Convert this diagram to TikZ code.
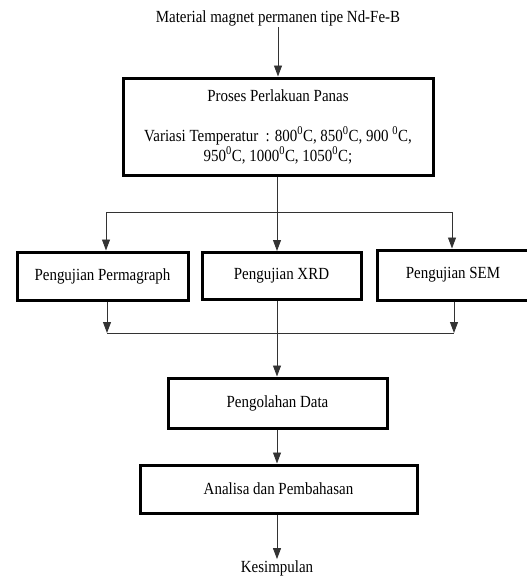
\documentclass[tikz,border=0pt]{standalone}
\usepackage{fontspec}
\setmainfont[FakeStretch=0.88]{Liberation Serif}
\usepackage{tikz}
\usetikzlibrary{arrows.meta}
\tikzset{>={Triangle[length=11pt,width=8pt]}}
\tikzset{
  box/.style={draw, line width=3pt, fill=white, align=center, inner sep=2pt},
  lbl/.style={inner sep=1pt},
  link/.style={line width=0.9pt, black!80},
}

\begin{document}
\begin{tikzpicture}[x=1pt,y=-1pt,font=\fontsize{17}{20}\selectfont]
  \useasboundingbox (0,0) rectangle (527,579);
  \node[lbl] (src) at (278,18) {Material magnet permanen tipe Nd-Fe-B};
  \node[box, minimum width=310pt, minimum height=97pt] (heat) at (278,126.5)
    {Proses Perlakuan Panas\\[20pt]
     Variasi Temperatur\ \ : 800\textsuperscript{0}C, 850\textsuperscript{0}C, 900 \textsuperscript{0}C,\\
     950\textsuperscript{0}C, 1000\textsuperscript{0}C, 1050\textsuperscript{0}C;};
  \node[box, minimum width=171pt, minimum height=48pt] (perm) at (102.5,276) {Pengujian Permagraph};
  \node[box, minimum width=159pt, minimum height=47pt] (xrd) at (281.5,276) {Pengujian XRD};
  \node[box, minimum width=152pt, minimum height=50pt] (sem) at (453,275) {Pengujian SEM};
  \node[box, minimum width=219pt, minimum height=50pt] (olah) at (277.5,403) {Pengolahan Data};
  \node[box, minimum width=277pt, minimum height=48pt] (anal) at (278.5,489) {Analisa dan Pembahasan};
  \node[lbl] (simp) at (277,568) {Kesimpulan};
  \coordinate (split) at (277,212);
  \coordinate (sl) at (106,212);
  \coordinate (sr) at (452,212);
  \coordinate (ml) at (107,333);
  \coordinate (mr) at (454,333);
  \draw[link,->] (src) -- (heat);
  \draw[link] (heat.south -| split) -- (split);
  \draw[link] (sl) -- (sr);
  \draw[link,->] (sl) -- (sl |- perm.north);
  \draw[link,->] (split) -- (split |- xrd.north);
  \draw[link,->] (sr) -- (sr |- sem.north);
  \draw[link,->] (perm.south -| ml) -- (ml);
  \draw[link,->] (sem.south -| mr) -- (mr);
  \draw[link] (ml) -- (mr);
  \draw[link,->] (xrd.south -| split) -- (split |- olah.north);
  \draw[link,->] (olah.south -| split) -- (split |- anal.north);
  \draw[link,->] (anal.south -| split) -- (split |- simp.north);
\end{tikzpicture}
\end{document}
